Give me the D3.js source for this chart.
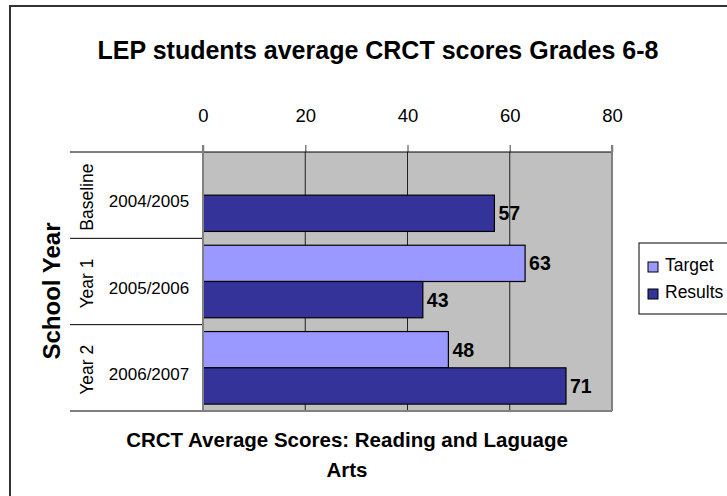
<!DOCTYPE html>
<html>
<head>
<meta charset="utf-8">
<script src="https://cdn.jsdelivr.net/npm/d3@7"></script>
<style>
  body { margin: 0; background: #fff; }
  text { font-family: "Liberation Sans", Arial, sans-serif; }
</style>
</head>
<body>
<div id="chart"></div>
<script>
// data
const periods = ["Baseline", "Year 1", "Year 2"];
const schoolYears = ["2004/2005", "2005/2006", "2006/2007"];
const seriesNames = ["Target", "Results"];
const targetValues = [null, 63, 48];
const resultValues = [57, 43, 71];
const xTicks = [0, 20, 40, 60, 80];
const colors = ["#9999FF", "#333399"];

const width = 727, height = 496;
const plot = {left: 203, right: 612, top: 152, bottom: 411};

const svg = d3.select("#chart").append("svg")
    .attr("width", width)
    .attr("height", height);

// outer frame (runs off the right and bottom edge)
svg.append("rect")
    .attr("x", 10).attr("y", 6)
    .attr("width", 760).attr("height", 520)
    .attr("fill", "white")
    .attr("stroke", "#333")
    .attr("stroke-width", 2);

svg.append("text")
    .attr("x", 378).attr("y", 59)
    .attr("text-anchor", "middle")
    .style("font-size", "25px")
    .style("font-weight", "bold")
    .text("LEP students average CRCT scores Grades 6-8");

const x = d3.scaleLinear().domain([0, 80]).range([plot.left, plot.right]);
const y = d3.scaleBand().domain(periods).range([plot.top, plot.bottom]);
const y2 = d3.scaleBand().domain(seriesNames).range([0, y.bandwidth()])
    .paddingOuter(0.19).paddingInner(0);

// plot background
svg.append("rect")
    .attr("x", plot.left).attr("y", plot.top)
    .attr("width", plot.right - plot.left).attr("height", plot.bottom - plot.top)
    .attr("fill", "#C0C0C0");

// gridlines
svg.append("g").selectAll("line")
    .data(xTicks.slice(1, -1))
    .join("line")
    .attr("x1", d => x(d)).attr("x2", d => x(d))
    .attr("y1", plot.top).attr("y2", plot.bottom)
    .attr("stroke", "#222")
    .attr("stroke-width", 1);

// top axis
const xAxis = svg.append("g")
    .attr("transform", `translate(0,${plot.top})`)
    .call(d3.axisTop(x).tickValues(xTicks).tickSize(7).tickPadding(23));
xAxis.select(".domain").remove();
xAxis.selectAll(".tick line").attr("stroke", "#808080").attr("stroke-width", 1.5);
xAxis.selectAll(".tick text")
    .style("font-family", "'Liberation Sans', Arial, sans-serif")
    .style("font-size", "18.5px")
    .attr("fill", "#000");

// bars
const rows = periods.map((p, i) => ({period: p, values: [targetValues[i], resultValues[i]]}));
const groups = svg.append("g").selectAll("g")
    .data(rows)
    .join("g")
    .attr("transform", d => `translate(0,${y(d.period)})`);

const bars = groups.selectAll("g")
    .data(d => seriesNames.map((s, j) => ({series: s, value: d.values[j], color: colors[j]}))
        .filter(e => e.value !== null))
    .join("g");

bars.append("rect")
    .attr("x", x(0))
    .attr("y", d => y2(d.series))
    .attr("width", d => x(d.value) - x(0))
    .attr("height", y2.bandwidth())
    .attr("fill", d => d.color)
    .attr("stroke", "#000")
    .attr("stroke-width", 1.2);

bars.append("text")
    .attr("x", d => x(d.value) + 4)
    .attr("y", d => y2(d.series) + y2.bandwidth() / 2 + 7)
    .style("font-size", "19.5px")
    .style("font-weight", "bold")
    .text(d => d.value);

// plot borders
svg.append("line")
    .attr("x1", 70).attr("x2", plot.right)
    .attr("y1", plot.top).attr("y2", plot.top)
    .attr("stroke", "#000");
svg.append("line")
    .attr("x1", plot.right).attr("x2", plot.right)
    .attr("y1", plot.top - 7).attr("y2", plot.bottom)
    .attr("stroke", "#808080").attr("stroke-width", 2);
svg.append("line")
    .attr("x1", plot.left).attr("x2", plot.right)
    .attr("y1", plot.bottom).attr("y2", plot.bottom)
    .attr("stroke", "#808080").attr("stroke-width", 2);

// category separators in label area
svg.append("g").selectAll("line")
    .data(periods.slice(1).map(p => y(p)).concat([plot.bottom]))
    .join("line")
    .attr("x1", 70).attr("x2", plot.left)
    .attr("y1", d => d).attr("y2", d => d)
    .attr("stroke", "#000");

svg.append("line")
    .attr("x1", plot.left).attr("x2", plot.left)
    .attr("y1", plot.top - 7).attr("y2", plot.bottom + 1)
    .attr("stroke", "#808080").attr("stroke-width", 2);

// category labels
const labels = svg.append("g").selectAll("g")
    .data(periods)
    .join("g");
labels.append("text")
    .attr("transform", d => `translate(93,${y(d) + y.bandwidth() / 2 + 2}) rotate(-90)`)
    .attr("text-anchor", "middle")
    .style("font-size", "17.5px")
    .text(d => d);
labels.append("text")
    .attr("x", 149)
    .attr("y", (d, i) => y(d) + y.bandwidth() / 2 + 12)
    .attr("text-anchor", "middle")
    .style("font-size", "17px")
    .text((d, i) => schoolYears[i]);

svg.append("text")
    .attr("transform", `translate(60,291) rotate(-90)`)
    .attr("text-anchor", "middle")
    .style("font-size", "24px")
    .style("font-weight", "bold")
    .text("School Year");

// x axis title
const xTitle = svg.append("text")
    .attr("text-anchor", "middle")
    .style("font-size", "20.5px")
    .style("font-weight", "bold");
xTitle.append("tspan").attr("x", 347).attr("y", 447).text("CRCT Average Scores: Reading and Laguage");
xTitle.append("tspan").attr("x", 347).attr("y", 477).text("Arts");

// legend
const legend = svg.append("g");
legend.append("rect")
    .attr("x", 639).attr("y", 243)
    .attr("width", 120).attr("height", 71)
    .attr("fill", "white").attr("stroke", "#000");
const items = legend.selectAll("g")
    .data(seriesNames)
    .join("g")
    .attr("transform", (d, i) => `translate(648,${262 + i * 27})`);
items.append("rect")
    .attr("width", 10).attr("height", 10)
    .attr("fill", (d, i) => colors[i])
    .attr("stroke", "#000");
items.append("text")
    .attr("x", 17).attr("y", 9)
    .style("font-size", "17.5px")
    .text(d => d);
</script>
</body>
</html>
